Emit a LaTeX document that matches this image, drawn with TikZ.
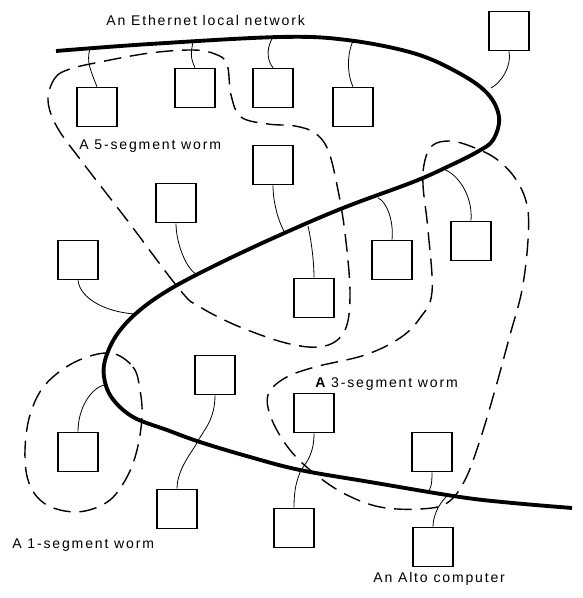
\documentclass[tikz,border=0pt]{standalone}
\usepackage{fontspec}
\setmainfont{Liberation Sans}[LetterSpace=13]
\begin{document}
\begin{tikzpicture}[x=0.02cm, y=-0.02cm,
  alto/.style={draw, line width=0.9pt, minimum width=0.8cm, minimum height=0.78cm, inner sep=0pt},
  ether/.style={line width=2.2pt},
  worm/.style={line width=0.8pt, dash pattern=on 10pt off 5pt},
  tap/.style={line width=0.45pt},
  lbl/.style={inner sep=0pt, anchor=base west, font=\fontsize{8pt}{9.6pt}\selectfont}]
\useasboundingbox (0,0) rectangle (582,598);
\draw[ether] plot[smooth, tension=0.6] coordinates {(56,51) (150,44) (280,37) (347,40) (413,53) (457,72) (487,93) (499,117) (493,140) (477,152) (447,167) (413,182) (343,208) (280,235) (220,263) (172,288) (140,310) (118,333) (106,357) (104,377) (112,398) (133,417) (167,430) (200,442) (250,457) (300,470) (370,482) (460,497) (513,503) (572,508)};
\draw[worm] plot[smooth cycle, tension=0.6] coordinates {(48,100) (55,78) (70,69) (100,62) (150,53) (193,50) (215,54) (227,64) (231,95) (241,117) (268,124) (295,126) (315,133) (328,150) (337,185) (345,233) (350,293) (345,330) (325,346) (290,344) (240,327) (200,307) (180,290) (127,220) (83,163) (57,127)};
\draw[worm] plot[smooth cycle, tension=0.6] coordinates {(425,160) (433,145) (450,141) (470,146) (495,158) (515,178) (527,205) (528,240) (522,290) (510,335) (495,390) (480,440) (465,480) (447,503) (420,509) (380,507) (345,494) (315,474) (290,450) (272,420) (268,395) (285,378) (315,367) (365,355) (400,338) (420,318) (432,292) (428,230) (423,185)};
\draw[worm] plot[smooth cycle, tension=0.6] coordinates {(110,353) (133,367) (140,390) (142,417) (137,450) (127,477) (110,500) (85,511) (60,510) (40,500) (28,480) (25,450) (30,415) (45,385) (75,362)};
\node[alto] (m1) at (97,107) {};
\node[alto] (m2) at (195,88) {};
\node[alto] (m3) at (273,88) {};
\node[alto] (m4) at (353,107) {};
\node[alto] (m5) at (509,31) {};
\node[alto] (m6) at (273,165) {};
\node[alto] (m7) at (176,203) {};
\node[alto] (m8) at (78,260) {};
\node[alto] (m9) at (471,241) {};
\node[alto] (m10) at (392,260) {};
\node[alto] (m11) at (314,298) {};
\node[alto] (m12) at (215,375) {};
\node[alto] (m13) at (78,452) {};
\node[alto] (m14) at (177,509) {};
\node[alto] (m15) at (314,413) {};
\node[alto] (m16) at (432,452) {};
\node[alto] (m17) at (294,528) {};
\node[alto] (m18) at (433,547) {};
\coordinate (t1) at (90,49);
\coordinate (t2) at (193,42);
\coordinate (t3) at (273,37);
\coordinate (t4) at (353,41);
\coordinate (t5) at (491,88);
\coordinate (t6) at (285,233);
\coordinate (t7) at (196,274);
\coordinate (t8) at (135,314);
\coordinate (t9) at (443,169);
\coordinate (t10) at (378,198);
\coordinate (t11) at (308,226);
\coordinate (t12) at (198,441);
\coordinate (t13) at (104,385);
\coordinate (t15) at (301,470);
\coordinate (t16) at (428,492);
\coordinate (t18) at (446,497);
\draw[tap] (m1.north) .. controls +(-6,-15) and +(-4,12) .. (t1);
\draw[tap] (m2.north) .. controls +(-5,-10) and +(-2,10) .. (t2);
\draw[tap] (m3.north) .. controls +(-8,-10) and +(-5,8) .. (t3);
\draw[tap] (m4.north) .. controls +(-7,-15) and +(-5,10) .. (t4);
\draw[tap] (m5.south) .. controls +(3,15) and +(10,-5) .. (t5);
\draw[tap] (m6.south) .. controls +(0,20) and +(-5,-8) .. (t6);
\draw[tap] (m7.south) .. controls +(0,20) and +(-10,-6) .. (t7);
\draw[tap] (m8.south) .. controls +(2,18) and +(-30,-2) .. (t8);
\draw[tap] (m9.north) .. controls +(2,-25) and +(15,5) .. (t9);
\draw[tap] (m10.north) .. controls +(2,-20) and +(8,3) .. (t10);
\draw[tap] (m11.north) .. controls +(0,-20) and +(2,8) .. (t11);
\draw[tap] (m12.south) .. controls +(0,25) and +(5,-10) .. (t12);
\draw[tap] (m14.north) .. controls +(0,-20) and +(-5,10) .. (t12);
\draw[tap] (m13.north) .. controls +(0,-25) and +(-12,3) .. (t13);
\draw[tap] (m15.south) .. controls +(0,20) and +(6,-8) .. (t15);
\draw[tap] (m17.north) .. controls +(0,-20) and +(-4,10) .. (t15);
\draw[tap] (m16.south) .. controls +(0,12) and +(3,-4) .. (t16);
\draw[tap] (m18.north) .. controls +(0,-10) and +(-8,8) .. (t18);
\node[lbl] (ethernet) at (106,26) {An Ethernet local network};
\node[lbl] (fiveworm) at (79,150) {A 5-segment worm};
\node[lbl] (threeworm) at (315,387) {{\bfseries A} 3-segment worm};
\node[lbl] (oneworm) at (12,548) {A 1-segment worm};
\node[lbl] (altolabel) at (373,582) {An Alto computer};
\end{tikzpicture}
\end{document}
